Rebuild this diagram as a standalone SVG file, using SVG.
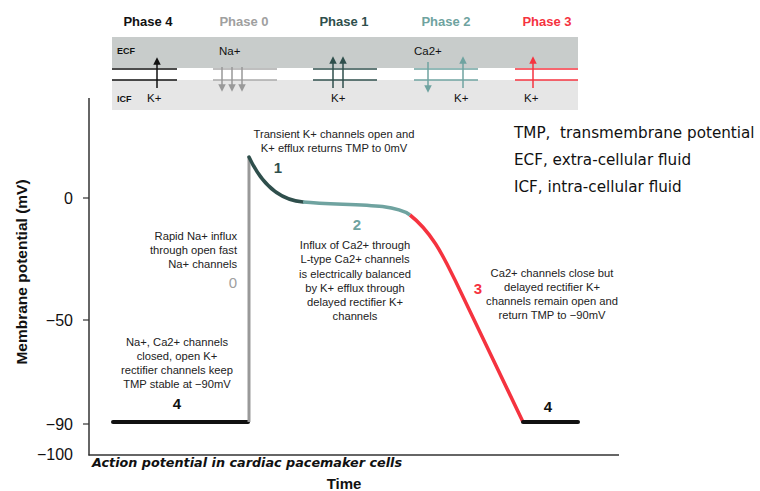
<svg xmlns="http://www.w3.org/2000/svg" width="760" height="491" viewBox="0 0 760 491">
<defs>
<style>
.t{font-family:"Liberation Sans",Arial,sans-serif;font-size:11.2px;fill:#222;text-anchor:middle}
.ph{font-family:"Liberation Sans",Arial,sans-serif;font-size:13px;font-weight:bold;text-anchor:middle}
.sm{font-family:"Liberation Sans",Arial,sans-serif;font-size:11.5px;fill:#111}
.tick{font-family:"Liberation Sans",Arial,sans-serif;font-size:16px;fill:#111;text-anchor:end}
.num{font-family:"Liberation Sans",Arial,sans-serif;font-size:15px;font-weight:bold;text-anchor:middle}
.leg{font-family:"DejaVu Sans",Verdana,sans-serif;font-size:15.2px;fill:#111}
.mem{stroke-width:1.5;fill:none}
.arr{stroke-width:1.5;fill:none}
</style>
<marker id="hk" viewBox="0 0 8 8" refX="4" refY="4" markerWidth="5" markerHeight="5" orient="auto"><path d="M0,0L8,4L0,8Z" fill="#111"/></marker>
<marker id="hg" viewBox="0 0 8 8" refX="4" refY="4" markerWidth="5" markerHeight="5" orient="auto"><path d="M0,0L8,4L0,8Z" fill="#999"/></marker>
<marker id="hd" viewBox="0 0 8 8" refX="4" refY="4" markerWidth="5" markerHeight="5" orient="auto"><path d="M0,0L8,4L0,8Z" fill="#2f4f4c"/></marker>
<marker id="ht" viewBox="0 0 8 8" refX="4" refY="4" markerWidth="5" markerHeight="5" orient="auto"><path d="M0,0L8,4L0,8Z" fill="#6fa3a0"/></marker>
<marker id="hr" viewBox="0 0 8 8" refX="4" refY="4" markerWidth="5" markerHeight="5" orient="auto"><path d="M0,0L8,4L0,8Z" fill="#f5333f"/></marker>
</defs>
<rect width="760" height="491" fill="#fff"/>

<g id="header">
<rect x="112" y="37" width="466" height="31" fill="#c8cccb"/>
<rect x="112" y="80" width="466" height="30" fill="#e6e6e6"/>
<text class="ph" x="148" y="26" fill="#111">Phase 4</text>
<text class="ph" x="244" y="26" fill="#a0a0a0">Phase 0</text>
<text class="ph" x="344" y="26" fill="#2f4f4c">Phase 1</text>
<text class="ph" x="446" y="26" fill="#6fa3a0">Phase 2</text>
<text class="ph" x="547" y="26" fill="#f5333f">Phase 3</text>
<text x="117" y="54" style="font-family:'Liberation Sans',Arial,sans-serif;font-size:9px;font-weight:bold" fill="#111">ECF</text>
<text x="117" y="102" style="font-family:'Liberation Sans',Arial,sans-serif;font-size:9px;font-weight:bold" fill="#111">ICF</text>
<text class="sm" x="219" y="55">Na+</text>
<text class="sm" x="414" y="55">Ca2+</text>
<text class="sm" x="147" y="102">K+</text>
<text class="sm" x="331" y="102">K+</text>
<text class="sm" x="454" y="102">K+</text>
<text class="sm" x="524" y="102">K+</text>
<g id="phase4-mem">
<line class="mem" x1="112" y1="69" x2="177" y2="69" stroke="#111"/>
<line class="mem" x1="112" y1="80" x2="177" y2="80" stroke="#111"/>
<line class="arr" x1="157" y1="88" x2="157" y2="61" stroke="#111" marker-end="url(#hk)"/>
</g>
<g id="phase0-mem">
<line class="mem" x1="213" y1="69" x2="277" y2="69" stroke="#aaa"/>
<line class="mem" x1="213" y1="80" x2="277" y2="80" stroke="#aaa"/>
<line class="arr" x1="222" y1="67" x2="222" y2="88" stroke="#999" marker-end="url(#hg)"/>
<line class="arr" x1="232" y1="67" x2="232" y2="88" stroke="#999" marker-end="url(#hg)"/>
<line class="arr" x1="242" y1="67" x2="242" y2="88" stroke="#999" marker-end="url(#hg)"/>
</g>
<g id="phase1-mem">
<line class="mem" x1="313" y1="69" x2="377" y2="69" stroke="#2f4f4c"/>
<line class="mem" x1="313" y1="80" x2="377" y2="80" stroke="#2f4f4c"/>
<line class="arr" x1="333" y1="88" x2="333" y2="60" stroke="#2f4f4c" marker-end="url(#hd)"/>
<line class="arr" x1="343" y1="88" x2="343" y2="60" stroke="#2f4f4c" marker-end="url(#hd)"/>
</g>
<g id="phase2-mem">
<line class="mem" x1="414" y1="69" x2="478" y2="69" stroke="#6fa3a0"/>
<line class="mem" x1="414" y1="80" x2="478" y2="80" stroke="#6fa3a0"/>
<line class="arr" x1="428" y1="62" x2="428" y2="89" stroke="#6fa3a0" marker-end="url(#ht)"/>
<line class="arr" x1="463" y1="88" x2="463" y2="60" stroke="#6fa3a0" marker-end="url(#ht)"/>
</g>
<g id="phase3-mem">
<line class="mem" x1="515" y1="69" x2="578" y2="69" stroke="#f5333f"/>
<line class="mem" x1="515" y1="80" x2="578" y2="80" stroke="#f5333f"/>
<line class="arr" x1="533" y1="88" x2="533" y2="60" stroke="#f5333f" marker-end="url(#hr)"/>
</g>
</g>

<g id="axes">
<line x1="89" y1="98" x2="89" y2="455.5" stroke="#333" stroke-width="1.5"/>
<line x1="88.5" y1="455" x2="619" y2="455" stroke="#333" stroke-width="1.5"/>
<line x1="83" y1="198" x2="89" y2="198" stroke="#333" stroke-width="1.2"/>
<line x1="83" y1="320" x2="89" y2="320" stroke="#333" stroke-width="1.2"/>
<line x1="83" y1="424" x2="89" y2="424" stroke="#333" stroke-width="1.2"/>
<text class="tick" x="73" y="204">0</text>
<text class="tick" x="73" y="326">−50</text>
<text class="tick" x="73" y="430">−90</text>
<text class="tick" x="73" y="460">−100</text>
<text transform="translate(27,272) rotate(-90)" style="font-family:'Liberation Sans',Arial,sans-serif;font-size:15.5px;font-weight:bold;text-anchor:middle" fill="#111">Membrane potential (mV)</text>
<text x="344" y="489" style="font-family:'Liberation Sans',Arial,sans-serif;font-size:15px;font-weight:bold;text-anchor:middle" fill="#111">Time</text>
<text x="92" y="467" textLength="310" lengthAdjust="spacingAndGlyphs" style="font-family:'DejaVu Sans',Verdana,sans-serif;font-size:13px;font-weight:bold;font-style:italic" fill="#111">Action potential in cardiac pacemaker cells</text>
</g>

<g id="trace">
<line x1="113" y1="422" x2="248" y2="422" stroke="#111" stroke-width="4" stroke-linecap="round"/>
<line x1="249" y1="422" x2="249" y2="157" stroke="#999" stroke-width="3"/>
<path d="M249,157 C262,185 280,200 303,202" stroke="#2f4f4c" stroke-width="3.5" fill="none" stroke-linecap="round"/>
<path d="M303,202 C345,206 392,202 410,215" stroke="#6fa3a0" stroke-width="3.5" fill="none"/>
<path d="M410,215 C433,233 445,260 455,280 L523,422" stroke="#f5333f" stroke-width="3.5" fill="none"/>
<line x1="523" y1="422" x2="578" y2="422" stroke="#111" stroke-width="4" stroke-linecap="round"/>
</g>

<g id="labels">
<text class="t" x="334" y="138">Transient K+ channels open and</text>
<text class="t" x="334" y="152">K+ efflux returns TMP to 0mV</text>
<text class="num" x="278" y="173" fill="#2f4f4c">1</text>

<text class="t" x="237" y="240" style="text-anchor:end">Rapid Na+ influx</text>
<text class="t" x="237" y="254" style="text-anchor:end">through open fast</text>
<text class="t" x="237" y="268" style="text-anchor:end">Na+ channels</text>
<text class="num" x="237" y="288" fill="#a0a0a0" style="text-anchor:end;font-weight:normal">0</text>

<text class="num" x="357" y="230" fill="#6fa3a0">2</text>
<text class="t" x="355" y="249">Influx of Ca2+ through</text>
<text class="t" x="355" y="263">L-type Ca2+ channels</text>
<text class="t" x="355" y="278">is electrically balanced</text>
<text class="t" x="355" y="292">by K+ efflux through</text>
<text class="t" x="355" y="306">delayed rectifier K+</text>
<text class="t" x="355" y="320">channels</text>

<text class="num" x="478" y="294" fill="#f5333f">3</text>
<text class="t" x="552" y="277">Ca2+ channels close but</text>
<text class="t" x="552" y="291">delayed rectifier K+</text>
<text class="t" x="552" y="305">channels remain open and</text>
<text class="t" x="552" y="319">return TMP to −90mV</text>

<text class="t" x="177" y="346">Na+, Ca2+ channels</text>
<text class="t" x="177" y="360">closed, open K+</text>
<text class="t" x="177" y="374">rectifier channels keep</text>
<text class="t" x="177" y="388">TMP stable at −90mV</text>
<text class="num" x="177" y="409" fill="#111">4</text>
<text class="num" x="548" y="412" fill="#111">4</text>
</g>

<g id="legend">
<text class="leg" x="514" y="138" xml:space="preserve">TMP,  transmembrane potential</text>
<text class="leg" x="514" y="165">ECF, extra-cellular fluid</text>
<text class="leg" x="514" y="192">ICF, intra-cellular fluid</text>
</g>
</svg>
